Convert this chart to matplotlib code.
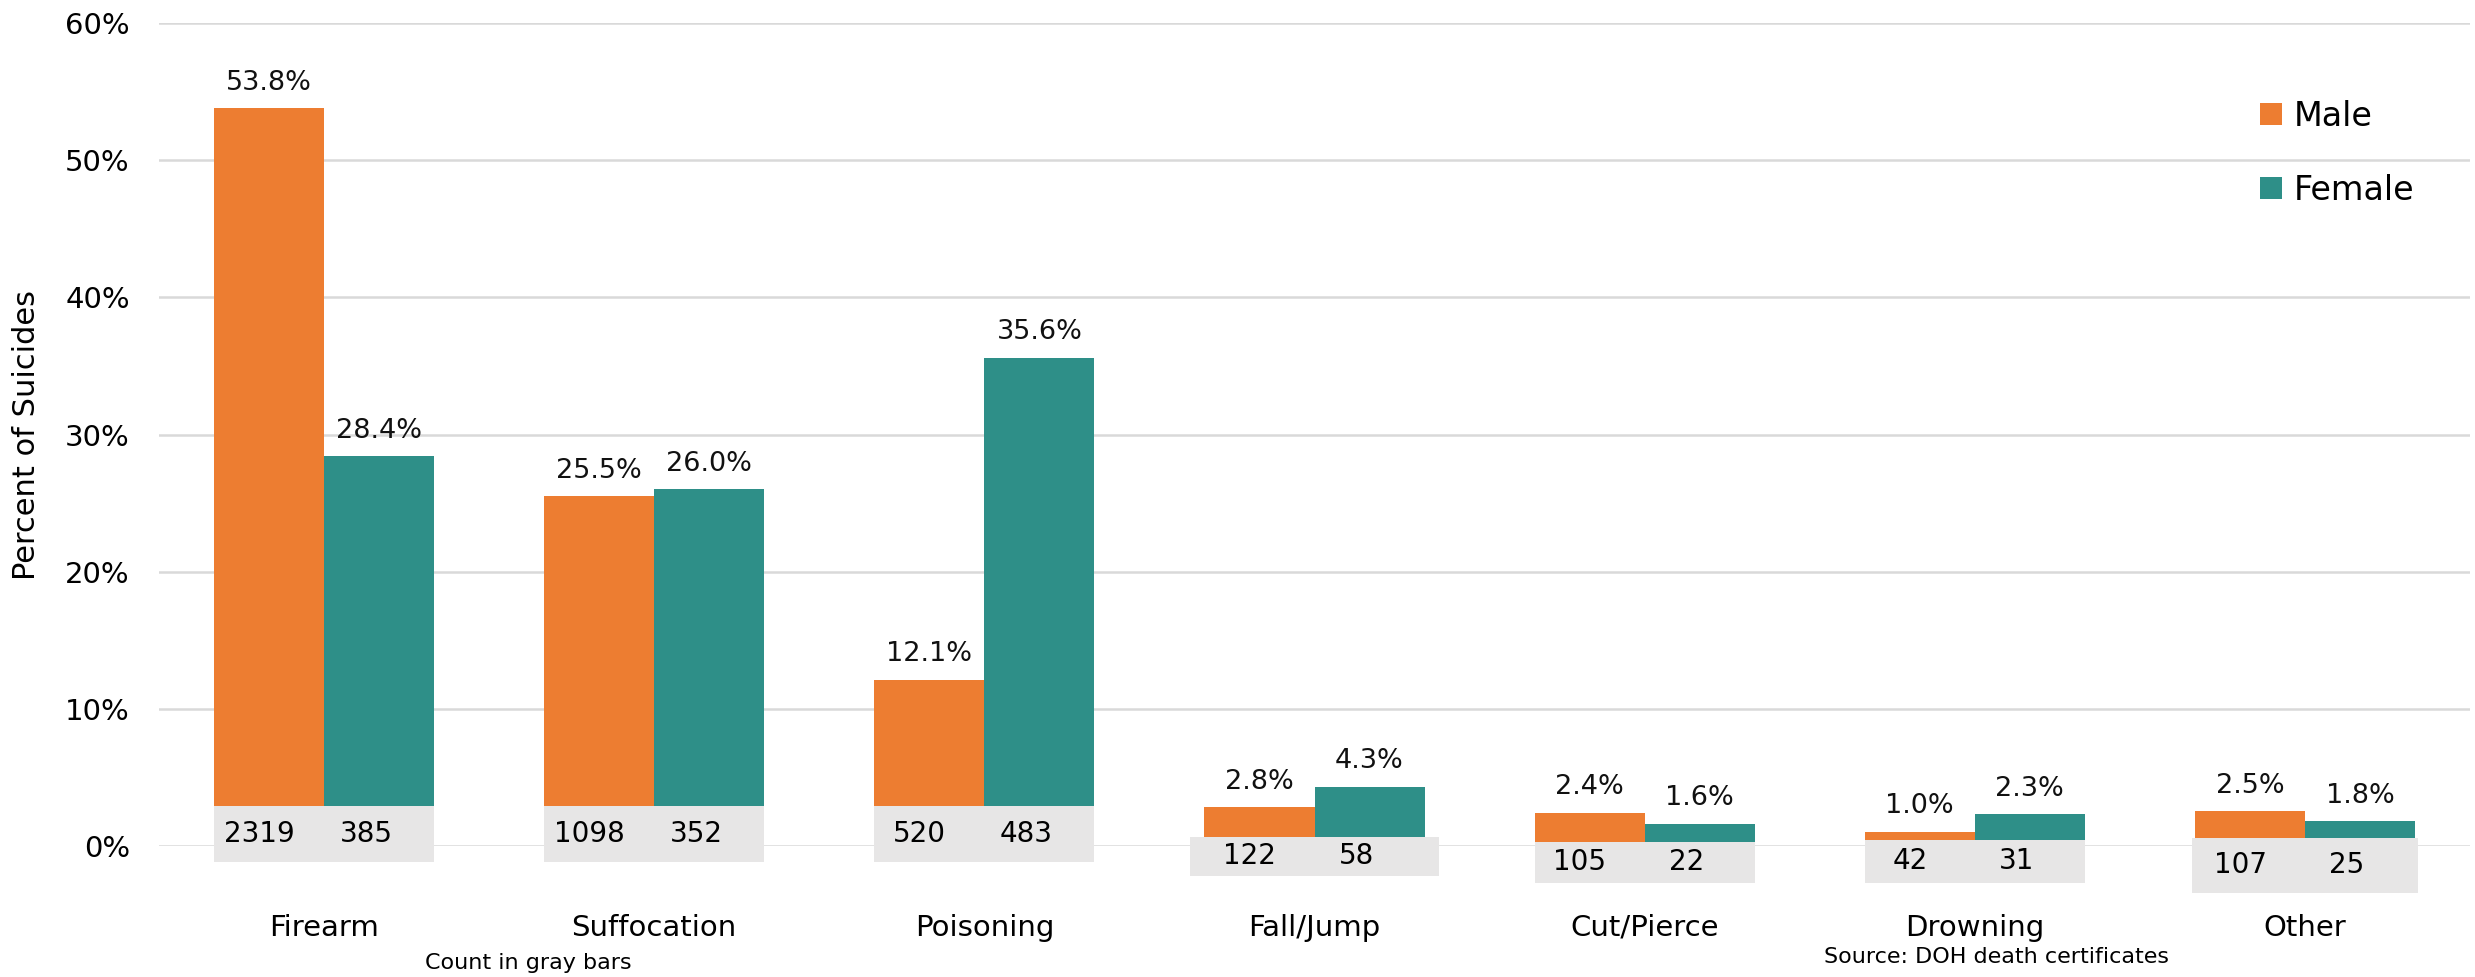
import numpy as np
import matplotlib
matplotlib.use('Agg')
import matplotlib.pyplot as plt
from matplotlib.patches import Rectangle

# datos
metodos = ['Firearm', 'Suffocation', 'Poisoning', 'Fall/Jump', 'Cut/Pierce', 'Drowning', 'Other']
pct_male = [53.8, 25.5, 12.1, 2.8, 2.4, 1.0, 2.5]
pct_female = [28.4, 26.0, 35.6, 4.3, 1.6, 2.3, 1.8]
n_male = [2319, 1098, 520, 122, 105, 42, 107]
n_female = [385, 352, 483, 58, 22, 31, 25]
yticks = [0, 10, 20, 30, 40, 50, 60]

# cajas grises (en % del eje y), colocadas a mano como en el original
caja_arriba = [2.9, 2.9, 2.9, 0.64, 0.27, 0.42, 0.58]
caja_abajo = [-1.17, -1.17, -1.17, -2.19, -2.70, -2.70, -3.43]
caja_margen = [0, 0, 0, 0.045, 0, 0, 0.01]

naranja = '#ED7D31'
verde = '#2E8F88'
gris = '#E7E6E6'
fuente = 'DejaVu Sans'
fuente_num = ['Liberation Sans Narrow', 'DejaVu Sans Condensed', 'DejaVu Sans']

fig = plt.figure(figsize=(24.75, 9.77), dpi=100)
ax = fig.add_axes([159 / 2475, 131.3 / 977, 2311 / 2475, 822.4 / 977])

x = np.arange(len(metodos))
ancho = 1 / 3

b1 = ax.bar(x - ancho / 2, pct_male, ancho, color=naranja, label='Male', zorder=2)
b2 = ax.bar(x + ancho / 2, pct_female, ancho, color=verde, label='Female', zorder=2)

for barras, vals in ((b1, pct_male), (b2, pct_female)):
    for b, v in zip(barras, vals):
        ax.annotate('{:.1f}%'.format(v), (b.get_x() + b.get_width() / 2, v),
                    xytext=(0, 9), textcoords='offset points', ha='center', va='bottom',
                    fontsize=19.5, family=fuente, color='#111111')

# cajas con los conteos
for i in range(len(metodos)):
    izq = x[i] - ancho - caja_margen[i]
    r = Rectangle((izq, caja_abajo[i]), 2 * ancho + 2 * caja_margen[i],
                  caja_arriba[i] - caja_abajo[i], facecolor=gris, edgecolor='none',
                  zorder=3, clip_on=False)
    ax.add_patch(r)
    ym = (caja_arriba[i] + caja_abajo[i]) / 2
    ax.text(x[i] - ancho / 2 - 0.03, ym, str(n_male[i]), ha='center', va='center',
            fontsize=20, family=fuente_num, zorder=4, clip_on=False)
    ax.text(x[i] + ancho / 2 - 0.04, ym, str(n_female[i]), ha='center', va='center',
            fontsize=20, family=fuente_num, zorder=4, clip_on=False)

ax.set_xlim(-0.5, len(metodos) - 0.5)
ax.set_ylim(0, 60)
ax.set_yticks(yticks)
ax.set_yticklabels(['{}%'.format(t) for t in yticks], family=fuente, fontsize=21)
ax.set_xticks(x)
ax.set_xticklabels(metodos, family=fuente, fontsize=21)
ax.tick_params(axis='x', length=0, pad=49)
ax.tick_params(axis='y', length=0, pad=21)
ax.grid(axis='y', color='#D9D9D9', linewidth=1.8, zorder=0)
ax.set_axisbelow(True)
for s in ax.spines.values():
    s.set_visible(False)

ax.set_ylabel('Percent of Suicides', family=fuente, fontsize=22)
ax.yaxis.set_label_coords(-0.051, 0.5)

fig.text(528 / 2475, 1 - 963 / 977, 'Count in gray bars', ha='center', va='center',
         family=fuente, fontsize=16)
fig.text(1996 / 2475, 1 - 957 / 977, 'Source: DOH death certificates', ha='center',
         va='center', family=fuente, fontsize=16)

leg = ax.legend(loc='upper left', bbox_to_anchor=(2260 / 2475, 1 - 100 / 977),
                bbox_transform=fig.transFigure, frameon=False, borderpad=0,
                borderaxespad=0, handlelength=0.65, handleheight=0.65,
                handletextpad=0.35, labelspacing=1.22,
                prop={'family': fuente, 'size': 24})

fig.savefig('out.png', dpi=100)
